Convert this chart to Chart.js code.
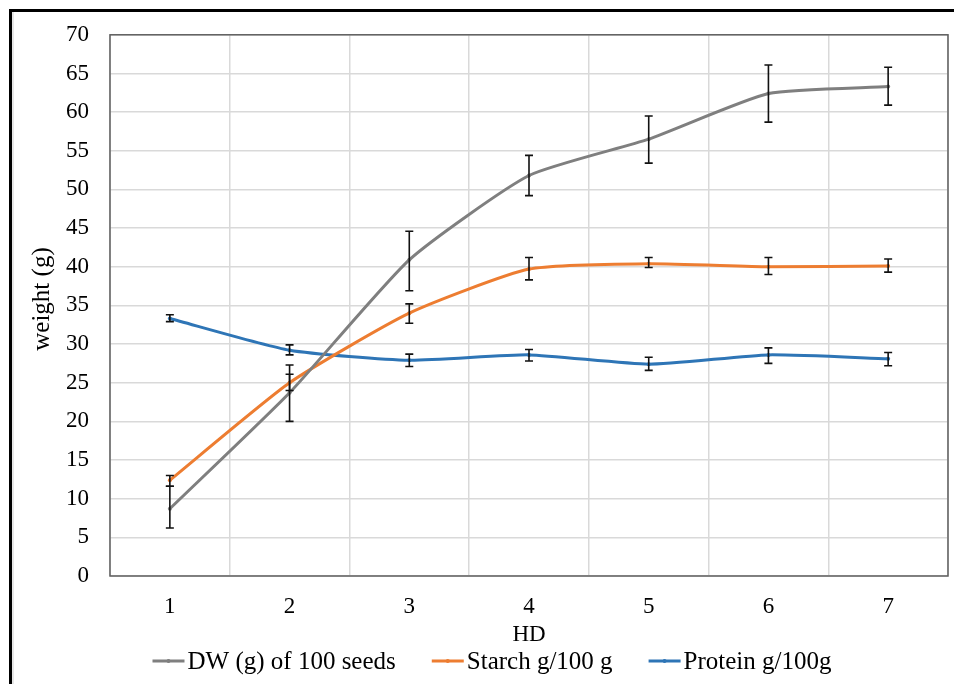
<!DOCTYPE html>
<html lang="en">
<head>
<meta charset="utf-8"/>
<title>Weight by HD</title>
<script src="https://cdn.jsdelivr.net/npm/chart.js"></script>
<style>
    html, body {
      margin: 0;
      padding: 0;
      background: #fff;
      overflow: hidden;
    }
    .cerceve {
      position: absolute;
      left: 9px;
      top: 9px;
      width: 1000px;
      height: 700px;
      border-left: 3px solid #000;
      border-top: 3px solid #000;
      box-shadow: inset 2px 0 0 #e6e6e6;
    }
    .alan {
      position: absolute;
      left: 0;
      top: 0;
      width: 954px;
      height: 684px;
    }
  </style>
</head>
<body>
<div class="cerceve"></div>
<div class="alan"><canvas id="grafik" width="954" height="684"></canvas></div>
<script>
    // kategoriler (HD)
    const hd = ['1', '2', '3', '4', '5', '6', '7'];

    // seriler
    const dw = [8.7, 23.7, 40.9, 51.8, 56.5, 62.4, 63.3];
    const dwAlt = [6.2, 20.0, 36.9, 49.2, 53.4, 58.7, 60.9];
    const dwUst = [11.6, 27.3, 44.6, 54.4, 59.5, 66.1, 65.8];

    const nisasta = [12.4, 25.0, 34.0, 39.7, 40.4, 40.0, 40.1];
    const nisastaAlt = [11.6, 24.0, 32.7, 38.3, 39.9, 39.0, 39.3];
    const nisastaUst = [13.0, 26.1, 35.2, 41.2, 41.2, 41.2, 41.0];

    const protein = [33.3, 29.2, 27.9, 28.6, 27.4, 28.6, 28.1];
    const proteinAlt = [32.9, 28.6, 27.1, 27.8, 26.6, 27.5, 27.2];
    const proteinUst = [33.8, 29.9, 28.7, 29.3, 28.3, 29.5, 28.9];

    const yTikler = [0, 5, 10, 15, 20, 25, 30, 35, 40, 45, 50, 55, 60, 65, 70];

    const yazi = 'Liberation Serif';

    // hata çubukları
    const hataCubugu = {
      id: 'hataCubugu',
      afterDatasetsDraw(chart) {
        const ctx = chart.ctx;
        const y = chart.scales.y;
        ctx.save();
        ctx.strokeStyle = '#111';
        ctx.lineWidth = 1.6;
        chart.data.datasets.forEach((ds, i) => {
          const meta = chart.getDatasetMeta(i);
          meta.data.forEach((nokta, j) => {
            const x = nokta.x;
            const a = y.getPixelForValue(ds.alt[j]);
            const u = y.getPixelForValue(ds.ust[j]);
            ctx.beginPath();
            ctx.moveTo(x, a); ctx.lineTo(x, u);
            ctx.moveTo(x - 4, a); ctx.lineTo(x + 4, a);
            ctx.moveTo(x - 4, u); ctx.lineTo(x + 4, u);
            ctx.stroke();
          });
        });
        ctx.restore();
      }
    };

    // çizim alanı çerçevesi
    const cerceve = {
      id: 'cerceve',
      beforeDatasetsDraw(chart) {
        const {ctx, chartArea: c} = chart;
        ctx.save();
        ctx.strokeStyle = '#5f5f5f';
        ctx.lineWidth = 1.5;
        ctx.strokeRect(c.left, c.top, c.right - c.left, c.bottom - c.top);
        ctx.restore();
      }
    };

    // y ekseni başlığı ve alttaki açıklama (Excel düzeninde)
    const yazilar = {
      id: 'yazilar',
      afterDraw(chart) {
        const ctx = chart.ctx;
        ctx.save();
        ctx.fillStyle = '#000';
        ctx.textBaseline = 'middle';

        ctx.save();
        ctx.translate(42, 299);
        ctx.rotate(-Math.PI / 2);
        ctx.textAlign = 'center';
        ctx.font = '25px "' + yazi + '"';
        ctx.fillText('weight (g)', 0, 0);
        ctx.restore();

        ctx.font = '25px "' + yazi + '"';
        ctx.textAlign = 'left';
        const cizgi = 32, bosluk = 3, ara = 36;
        const genislikler = chart.data.datasets.map(ds => cizgi + bosluk + ctx.measureText(ds.label).width);
        const toplam = genislikler.reduce((a, b) => a + b, 0) + ara * (genislikler.length - 1);
        let x = 492 - toplam / 2;
        const y = 661;
        chart.data.datasets.forEach((ds, i) => {
          ctx.strokeStyle = ds.borderColor;
          ctx.lineWidth = 3;
          ctx.beginPath();
          ctx.moveTo(x, y); ctx.lineTo(x + cizgi, y);
          ctx.stroke();
          ctx.fillStyle = ds.borderColor;
          ctx.beginPath();
          ctx.arc(x + cizgi / 2, y, 2, 0, Math.PI * 2);
          ctx.fill();
          ctx.fillStyle = '#000';
          ctx.fillText(ds.label, x + cizgi + bosluk, y + 1);
          x += genislikler[i] + ara;
        });
        ctx.restore();
      }
    };

    new Chart(document.getElementById('grafik'), {
      type: 'line',
      data: {
        labels: hd,
        datasets: [
          { label: 'DW (g) of 100 seeds', data: dw, alt: dwAlt, ust: dwUst,
            borderColor: '#7f7f7f', backgroundColor: '#7f7f7f' },
          { label: 'Starch g/100 g', data: nisasta, alt: nisastaAlt, ust: nisastaUst,
            borderColor: '#ED7D31', backgroundColor: '#ED7D31' },
          { label: 'Protein g/100g', data: protein, alt: proteinAlt, ust: proteinUst,
            borderColor: '#2E75B6', backgroundColor: '#2E75B6' }
        ]
      },
      options: {
        responsive: false,
        animation: false,
        devicePixelRatio: 1,
        elements: {
          line: { borderWidth: 3, tension: 0.18 },
          point: { radius: 2, borderWidth: 0 }
        },
        layout: { padding: { top: 31, right: 6, left: 0, bottom: 35 } },
        plugins: {
          legend: { display: false },
          tooltip: { enabled: false }
        },
        scales: {
          x: {
            offset: true,
            afterFit: s => { s.height = 73; },
            grid: { color: '#d9d9d9', lineWidth: 1.5, offset: true, drawTicks: false },
            border: { display: false },
            ticks: { font: { family: yazi, size: 23 }, color: '#000', padding: 17 },
            title: { display: true, text: 'HD', font: { family: yazi, size: 23 }, color: '#000', padding: 0 }
          },
          y: {
            min: 0,
            max: 70,
            afterBuildTicks: s => { s.ticks = yTikler.map(v => ({ value: v })); },
            afterFit: s => { s.width = 110; },
            grid: { color: '#d9d9d9', lineWidth: 1.5, drawTicks: false },
            border: { display: false },
            ticks: { font: { family: yazi, size: 23 }, color: '#000', padding: 21 }
          }
        }
      },
      plugins: [cerceve, hataCubugu, yazilar]
    });
  </script>
</body>
</html>
